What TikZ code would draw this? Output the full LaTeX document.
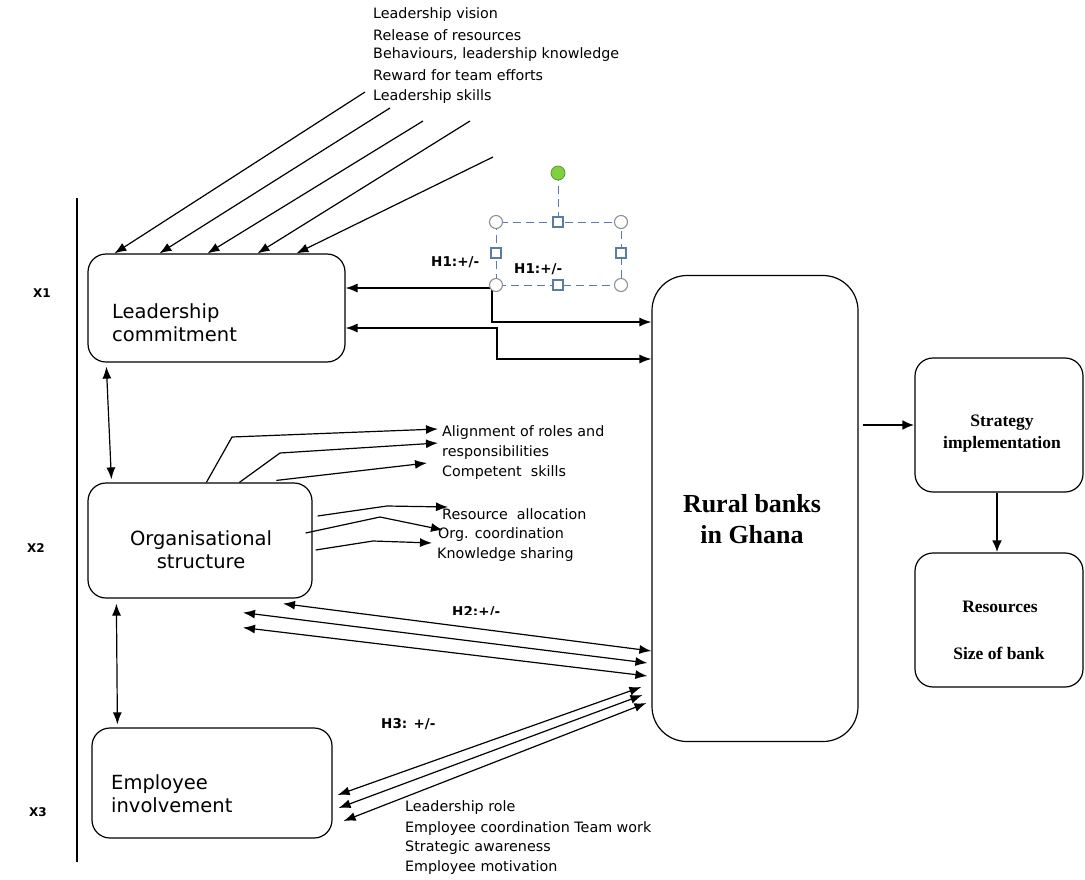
\documentclass[tikz,border=0pt]{standalone}
\usepackage{fontspec}
\setmainfont{DejaVu Sans}
\newfontfamily\tnr{Liberation Serif}
\usetikzlibrary{arrows.meta}
\definecolor{handleblue}{HTML}{5A7BA5}
\definecolor{handlegray}{HTML}{8A8A8A}
\definecolor{handlegreen}{HTML}{80D040}
\definecolor{handlegreenb}{HTML}{5A9A30}
\begin{document}
\begin{tikzpicture}[x=1pt,y=-1pt,
  box/.style={draw,line width=1.2pt,rounded corners=18pt,inner sep=0pt},
  arr/.style={-{Latex[length=12pt,width=9pt]},line width=1.2pt},
  darr/.style={{Latex[length=12pt,width=9pt]}-{Latex[length=12pt,width=9pt]},line width=1.2pt},
  thickarr/.style={-{Latex[length=12pt,width=10pt]},line width=2.6pt},
  lbl/.style={anchor=west,inner sep=0pt,font=\fontsize{14.3}{17}\selectfont},
  hlbl/.style={anchor=west,inner sep=0pt,font=\fontsize{13.5}{16}\selectfont\bfseries},
  xlbl/.style={inner sep=0pt,font=\fontsize{12}{14}\selectfont\bfseries},
  boxtxt/.style={inner sep=0pt,font=\fontsize{19.5}{23}\selectfont},
  serif/.style={inner sep=0pt,font=\tnr\bfseries\fontsize{17.5}{22}\selectfont},
  hdash/.style={draw=handleblue,line width=1pt,dash pattern=on 8pt off 5pt},
  hcirc/.style={circle,draw=handlegray,fill=white,line width=1pt,minimum size=13pt,inner sep=0pt},
  hsq/.style={rectangle,draw=handleblue,fill=white,line width=1.2pt,minimum size=10pt,inner sep=0pt}]
\useasboundingbox (0,0) rectangle (1085,879);

% boxes
\node[box,minimum width=257pt,minimum height=108pt] (LC) at (216.5,308) {};
\node[box,minimum width=224pt,minimum height=115pt] (OS) at (200,540.5) {};
\node[box,minimum width=240pt,minimum height=110pt] (EI) at (212,783) {};
\node[box,rounded corners=35pt,minimum width=206pt,minimum height=466pt] (RB) at (755,508.5) {};
\node[box,minimum width=168pt,minimum height=134pt] (SI) at (999,425) {};
\node[box,minimum width=168pt,minimum height=134pt] (RS) at (999,620) {};

% box texts
\node[boxtxt,anchor=west,align=left] (LCt) at (112,323) {Leadership\\commitment};
\node[boxtxt,align=center] (OSt) at (201,550) {Organisational\\structure};
\node[boxtxt,anchor=west,align=left] (EIt) at (111,794) {Employee\\involvement};
\node[serif,align=center,font=\tnr\bfseries\fontsize{26}{31}\selectfont] (RBt) at (752,519) {Rural banks\\in Ghana};
\node[serif,align=center] (SIt) at (1002,434) {Strategy\\implementation};
\node[serif] (RSa) at (1000,607) {Resources};
\node[serif] (RSb) at (999,653) {Size of bank};

% side labels
\draw[line width=1.4pt] (77,198) -- (77,862);
\node[xlbl] (X1) at (42,293) {X1};
\node[xlbl] (X2) at (36,548) {X2};
\node[xlbl] (X3) at (38,812) {X3};

% top labels
\node[lbl] (t1) at (373,15) {Leadership vision};
\node[lbl] (t2) at (373,35) {Release of resources};
\node[lbl] (t3) at (373,55) {Behaviours, leadership knowledge};
\node[lbl] (t4) at (373,75) {Reward for team efforts};
\node[lbl] (t5) at (373,97) {Leadership skills};

\coordinate (a1) at (365,92);
\coordinate (a2) at (390,108);
\coordinate (a3) at (423,121);
\coordinate (a4) at (470,121);
\coordinate (a5) at (493,157);
\draw[arr] (a1) -- ([xshift=27pt]LC.north west);
\draw[arr] (a2) -- ([xshift=72pt]LC.north west);
\draw[arr] (a3) -- ([xshift=120pt]LC.north west);
\draw[arr] (a4) -- ([xshift=170pt]LC.north west);
\draw[arr] (a5) -- ([xshift=209pt]LC.north west);

% LC <-> RB
\draw[darr] ([yshift=20pt]LC.east) -- (492,288) -- (492,322) -- ([yshift=186.5pt]RB.west);
\draw[darr] ([yshift=-20pt]LC.east) -- (497,328) -- (497,359) -- ([yshift=149.5pt]RB.west);

% LC <-> OS <-> EI
\draw[darr] ([shift={(19pt,-4pt)}]LC.south west) -- ([shift={(24pt,3pt)}]OS.north west);
\draw[darr] ([shift={(29pt,-5pt)}]OS.south west) -- ([shift={(26pt,3pt)}]EI.north west);

% OS labels
\node[lbl] (al1) at (442,433) {Alignment of roles and};
\node[lbl] (al2) at (442,453) {responsibilities};
\node[lbl] (al3) at (442,473) {Competent~ skills};
\node[lbl] (r1) at (442,514) {Resource~ allocation};
\node[lbl] (r2) at (438,535) {Org. coordination};
\node[lbl] (r3) at (437,555) {Knowledge sharing};

\draw[arr] ([xshift=119pt]OS.north west) -- (232,437) -- ([shift={(-4pt,4pt)}]al1.west);
\draw[arr] ([xshift=152pt]OS.north west) -- (280,453) -- ([shift={(-4pt,10pt)}]al2.west);
\draw[arr] ([shift={(189pt,2pt)}]OS.north west) -- ([shift={(-15pt,10pt)}]al3.west);
\draw[arr] ([shift={(5pt,24.5pt)}]OS.east) -- (387,506) -- ([shift={(6pt,7pt)}]r1.west);
\draw[arr] ([shift={(-7pt,7.5pt)}]OS.east) -- (380,517) -- ([shift={(5pt,5pt)}]r2.west);
\draw[arr] ([shift={(3pt,-9.5pt)}]OS.east) -- (373,541) -- ([shift={(-5pt,12pt)}]r3.west);

% OS <-> RB (H2)
\draw[darr] ([shift={(83pt,-5pt)}]OS.south) -- ([yshift=-142.5pt]RB.west);
\draw[darr] ([shift={(43pt,-14pt)}]OS.south) -- ([shift={(-4pt,-154.5pt)}]RB.west);
\draw[darr] ([shift={(43pt,-29pt)}]OS.south) -- ([shift={(-4pt,-167.5pt)}]RB.west);

% EI <-> RB (H3)
\draw[darr] ([shift={(5pt,-12pt)}]EI.east) -- ([shift={(-10pt,-178.5pt)}]RB.west);
\draw[darr] ([shift={(6pt,-25pt)}]EI.east) -- ([shift={(-9pt,-186.5pt)}]RB.west);
\draw[darr] ([shift={(11pt,-38pt)}]EI.east) -- ([shift={(-5pt,-194.5pt)}]RB.west);

% RB -> SI -> RS
\draw[thickarr] ([shift={(4pt,83.5pt)}]RB.east) -- (SI.west);
\draw[thickarr] ([xshift=-2pt]SI.south) -- ([xshift=-2pt]RS.north);

% hypothesis labels
\node[hlbl] (h1a) at (431,262) {H1:+/-};
\node[hlbl] (h1b) at (514,269) {H1:+/-};
\begin{scope}
\clip (440,600) rectangle (520,614.5);
\node[hlbl] (h2) at (452,612) {H2:+/-};
\end{scope}
\node[hlbl] (h3) at (381,724) {H3: +/-};

% bottom labels
\node[lbl] (b1) at (405,808) {Leadership role};
\node[lbl] (b2) at (405,829) {Employee coordination Team work};
\node[lbl] (b3) at (405,848) {Strategic awareness};
\node[lbl] (b4) at (405,868) {Employee motivation};

% selection handles
\draw[hdash] (558,173) -- (558,222);
\draw[hdash] (496,222) rectangle (621,285);
\node[hcirc] (c1) at (496,222) {};
\node[hcirc] (c2) at (621,222) {};
\node[hcirc] (c3) at (496,285) {};
\node[hcirc] (c4) at (621,285) {};
\node[hsq] (q1) at (558,222) {};
\node[hsq] (q2) at (558,285) {};
\node[hsq] (q3) at (496,253) {};
\node[hsq] (q4) at (621,253) {};
\node[circle,draw=handlegreenb,fill=handlegreen,line width=0.8pt,minimum size=14pt,inner sep=0pt] (g) at (558,173) {};
\end{tikzpicture}
\end{document}
